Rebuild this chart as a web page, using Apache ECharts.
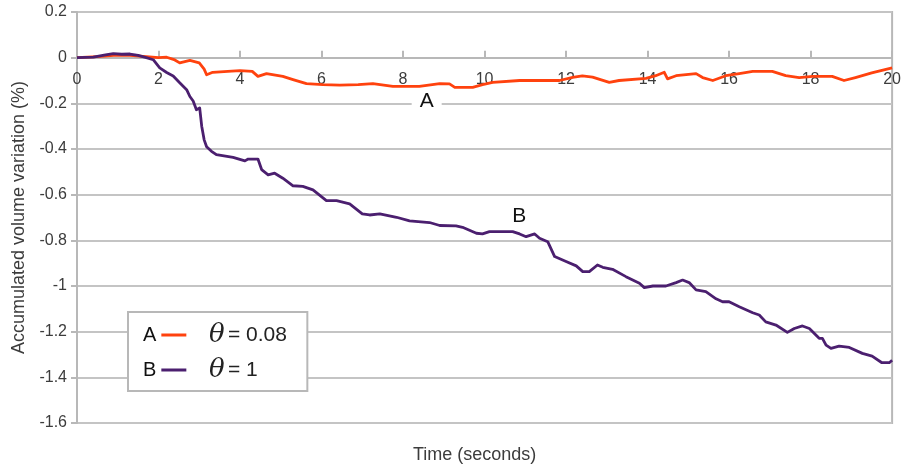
<!DOCTYPE html>
<html>
<head>
<meta charset="utf-8">
<script src="https://cdn.jsdelivr.net/npm/echarts@6/dist/echarts.min.js"></script>
<style>
  html, body { margin: 0; padding: 0; background: #fff; }
  #chart { width: 904px; height: 470px; }
</style>
</head>
<body>
<div id="chart"></div>
<script>
// Accumulated volume variation over time for two theta settings
const timeA = [0, 0.5, 0.9, 1.3, 1.7, 2.0, 2.2, 2.4, 2.52, 2.77, 3.0, 3.12, 3.18, 3.33, 3.7, 4.0, 4.3, 4.44, 4.65, 5.05, 5.3, 5.63, 6.03, 6.45, 6.9, 7.26, 7.75, 8.4, 8.9, 9.14, 9.27, 9.71, 9.95, 10.2, 10.86, 11.84, 12.16, 12.4, 12.65, 13.06, 13.3, 13.96, 14.2, 14.41, 14.49, 14.7, 15.19, 15.35, 15.6, 15.92, 16.25, 16.58, 17.06, 17.39, 17.72, 18.05, 18.53, 18.82, 19.1, 19.5, 20];
const valueA = [0, 0.005, 0.01, 0.01, 0.005, 0, 0.002, -0.01, -0.023, -0.012, -0.023, -0.05, -0.075, -0.064, -0.06, -0.057, -0.06, -0.082, -0.07, -0.082, -0.096, -0.114, -0.118, -0.12, -0.118, -0.114, -0.126, -0.126, -0.114, -0.115, -0.13, -0.13, -0.118, -0.108, -0.1, -0.1, -0.086, -0.08, -0.085, -0.108, -0.1, -0.091, -0.079, -0.064, -0.093, -0.079, -0.07, -0.087, -0.1, -0.079, -0.07, -0.06, -0.06, -0.079, -0.087, -0.082, -0.082, -0.1, -0.087, -0.067, -0.045];

const timeB = [0, 0.4, 0.7, 0.89, 1.1, 1.3, 1.5, 1.7, 1.87, 2.03, 2.2, 2.36, 2.52, 2.69, 2.77, 2.85, 2.93, 3.01, 3.06, 3.12, 3.18, 3.3, 3.42, 3.83, 4.12, 4.2, 4.44, 4.53, 4.69, 4.85, 5.05, 5.3, 5.54, 5.79, 6.12, 6.37, 6.69, 7.0, 7.18, 7.43, 7.84, 8.16, 8.65, 8.9, 9.3, 9.46, 9.8, 9.95, 10.12, 10.69, 10.86, 11.02, 11.23, 11.35, 11.55, 11.72, 12.0, 12.25, 12.41, 12.57, 12.77, 12.9, 13.14, 13.47, 13.8, 13.92, 14.13, 14.45, 14.7, 14.86, 15.02, 15.19, 15.43, 15.68, 15.84, 16.0, 16.25, 16.58, 16.74, 16.9, 17.15, 17.43, 17.6, 17.8, 17.97, 18.13, 18.21, 18.29, 18.38, 18.5, 18.7, 18.95, 19.27, 19.51, 19.75, 19.93, 20];
const valueB = [0, 0.002, 0.012, 0.018, 0.015, 0.016, 0.01, 0, -0.009, -0.045, -0.065, -0.08, -0.11, -0.14, -0.17, -0.19, -0.228, -0.22, -0.3, -0.36, -0.39, -0.41, -0.425, -0.437, -0.452, -0.444, -0.444, -0.49, -0.513, -0.506, -0.528, -0.561, -0.564, -0.579, -0.626, -0.626, -0.64, -0.684, -0.689, -0.684, -0.699, -0.715, -0.722, -0.735, -0.737, -0.743, -0.769, -0.772, -0.762, -0.762, -0.772, -0.784, -0.772, -0.791, -0.806, -0.871, -0.893, -0.912, -0.937, -0.937, -0.908, -0.918, -0.927, -0.959, -0.988, -1.007, -1.0, -1.0, -0.985, -0.974, -0.985, -1.017, -1.025, -1.056, -1.069, -1.069, -1.091, -1.117, -1.127, -1.157, -1.171, -1.203, -1.186, -1.175, -1.186, -1.215, -1.229, -1.229, -1.259, -1.273, -1.263, -1.269, -1.295, -1.307, -1.336, -1.336, -1.325];

const seriesNames = ['A', 'B'];
const thetaLabels = ['0.08', '1'];
const seriesLabelAt = [[8.58, -0.189], [10.85, -0.693]];

const xTicks = { min: 0, max: 20, step: 2 };
const yTicks = { min: -1.6, max: 0.2, step: 0.2 };

const colors = ['#ff420e', '#4b1f6f'];
const gray = '#b8b8b8';
const textColor = '#3c3c3c';
const font = 'Liberation Sans';

// plot box in pixels
const plot = { left: 77, right: 11, top: 12, bottom: 47, height: 470 - 12 - 47 };

const pairs = (t, v) => t.map((x, i) => [x, v[i]]);

function makeSeries(idx, t, v) {
  return {
    name: seriesNames[idx],
    type: 'line',
    data: pairs(t, v),
    showSymbol: false,
    symbol: 'none',
    lineStyle: { color: colors[idx], width: 2.8, join: 'round' },
    itemStyle: { color: colors[idx] },
    animation: false,
    markPoint: {
      symbol: 'circle',
      symbolSize: 0,
      silent: true,
      data: [{ coord: seriesLabelAt[idx] }],
      label: {
        show: true,
        position: 'inside',
        formatter: seriesNames[idx],
        color: '#111',
        fontFamily: font,
        fontSize: 21,
        backgroundColor: '#fff',
        padding: [1, 8, 1, 8]
      }
    }
  };
}

const chart = echarts.init(document.getElementById('chart'), null, { renderer: 'canvas' });

// the time axis crosses the value axis at zero
const zeroOffset = -plot.height * (0 - yTicks.min) / (yTicks.max - yTicks.min);

chart.setOption({
  animation: false,
  backgroundColor: '#fff',
  grid: {
    left: plot.left, right: plot.right, top: plot.top, bottom: plot.bottom,
    show: true, borderColor: gray, borderWidth: 2
  },
  title: {
    text: 'Time (seconds)',
    left: 408, top: 441,
    textStyle: { fontFamily: font, fontSize: 18, fontWeight: 'normal', color: textColor }
  },
  legend: {
    left: 128, top: 312,
    orient: 'vertical',
    align: 'right',
    data: seriesNames,
    icon: 'rect',
    itemWidth: 25, itemHeight: 3,
    itemGap: 15,
    padding: [13, 121, 11, 15],
    backgroundColor: '#fff',
    borderColor: gray, borderWidth: 2,
    selectedMode: false,
    textStyle: { fontFamily: font, fontSize: 20, color: '#111', lineHeight: 20 }
  },
  graphic: thetaLabels.map((val, i) => ({
    type: 'text',
    left: 209, top: 322 + i * 35,
    z: 100,
    style: {
      text: '{th|θ} {eq|= ' + val + '}',
      rich: {
        th: { fontFamily: 'DejaVu Serif', fontStyle: 'italic', fontSize: 26, fill: '#222' },
        eq: { fontFamily: font, fontSize: 21, fill: '#222' }
      }
    }
  })),
  xAxis: {
    type: 'value',
    min: xTicks.min, max: xTicks.max, interval: xTicks.step,
    position: 'bottom',
    offset: zeroOffset,
    axisLine: { show: true, onZero: false, lineStyle: { color: gray, width: 2 } },
    axisTick: { show: true, inside: true, length: 7, lineStyle: { color: gray, width: 2 } },
    axisLabel: { margin: 14, fontFamily: font, fontSize: 16, color: textColor },
    splitLine: { show: false }
  },
  yAxis: {
    type: 'value',
    min: yTicks.min, max: yTicks.max, interval: yTicks.step,
    name: 'Accumulated volume variation (%)',
    nameLocation: 'middle',
    nameGap: 48,
    nameTextStyle: { fontFamily: font, fontSize: 18, color: textColor },
    axisLine: { show: true, onZero: false, lineStyle: { color: gray, width: 2 } },
    axisTick: { show: true, length: 6, lineStyle: { color: gray, width: 2 } },
    axisLabel: {
      margin: 10, fontFamily: font, fontSize: 16, color: textColor,
      formatter: v => String(Math.round(v * 10) / 10)
    },
    splitLine: { show: true, lineStyle: { color: '#c4c4c4', width: 2 } }
  },
  series: [
    makeSeries(0, timeA, valueA),
    makeSeries(1, timeB, valueB)
  ]
});
</script>
</body>
</html>
